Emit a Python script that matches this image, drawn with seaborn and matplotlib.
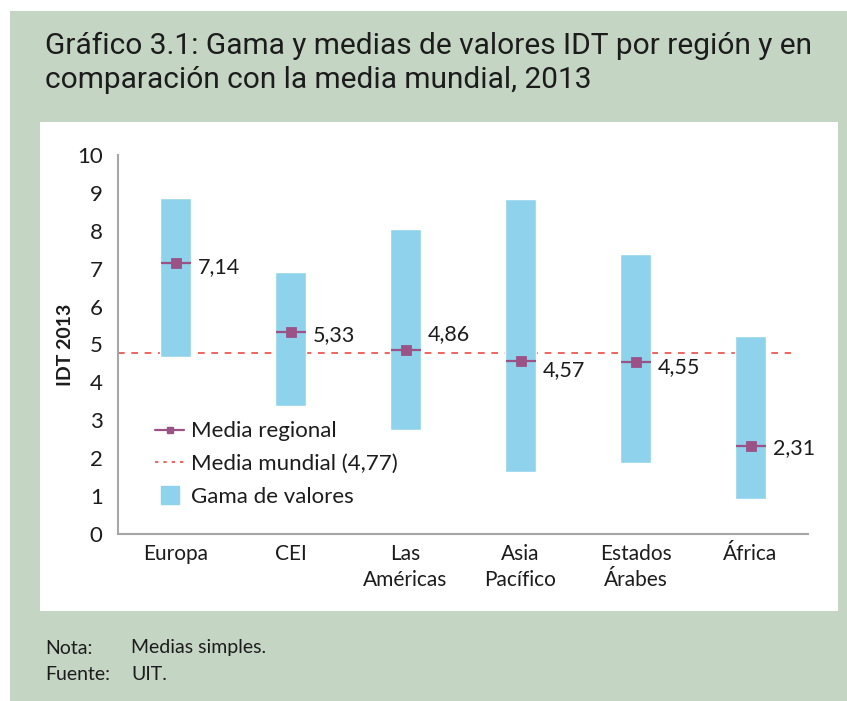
import numpy as np
import pandas as pd
import matplotlib.pyplot as plt
import seaborn as sns
from matplotlib.lines import Line2D
from matplotlib.patches import Rectangle

# data
regions = ["Europa", "CEI", "Las\nAméricas", "Asia\nPacífico", "Estados\nÁrabes", "África"]
range_low = [4.68, 3.37, 2.75, 1.64, 1.87, 0.93]
range_high = [8.86, 6.91, 8.04, 8.84, 7.38, 5.22]
regional_mean = [7.14, 5.33, 4.86, 4.57, 4.55, 2.31]
mean_labels = ["7,14", "5,33", "4,86", "4,57", "4,55", "2,31"]
world_mean = 4.77

df = pd.DataFrame({"region": regions, "low": range_low, "high": range_high, "mean": regional_mean})
df["span"] = df["high"] - df["low"]

sns.set_style("white")
plt.rcParams["font.family"] = ["Lato", "DejaVu Sans"]

bar_color = "#8ed3eb"
mean_color = "#9b5287"
world_color = "#ec4a42"
green = "#c5d5c4"
text_color = "#1c1c1c"

fig = plt.figure(figsize=(8.47, 7.01), dpi=100)
fig.patch.set_facecolor("white")
W, H = 847, 701
fig.patches.append(Rectangle((10 / W, 0), 1, 1 - 11 / H, transform=fig.transFigure,
                             facecolor=green, edgecolor="none", zorder=-2))
fig.patches.append(Rectangle((40 / W, 1 - 611 / H), (838 - 40) / W, (611 - 122) / H,
                             transform=fig.transFigure, facecolor="white", edgecolor="none", zorder=-1))

ax = fig.add_axes([118 / W, 1 - 534 / H, (808 - 118) / W, (534 - 155) / H])
ax.set_facecolor("none")

# value ranges as floating bars
sns.barplot(data=df, x="region", y="span", bottom=df["low"], color=bar_color, saturation=1,
            width=0.27, ax=ax, zorder=2)

# regional means: short line across the bar + square marker
sns.pointplot(data=df, x="region", y="mean", color=mean_color, markers="_", linestyle="none",
              errorbar=None, markersize=22, markeredgewidth=1.6, ax=ax, zorder=3)
sns.pointplot(data=df, x="region", y="mean", color=mean_color, markers="s", linestyle="none",
              errorbar=None, markersize=6, ax=ax, zorder=4)

ax.axhline(world_mean, xmin=0, xmax=0.975, color=world_color, ls=(0, (4, 4)), lw=1.2, zorder=1)

label_dy = [-3, -2, 11, -7, -4, -1]
for i, (m, lab) in enumerate(zip(regional_mean, mean_labels)):
    ax.annotate(lab, xy=(i, m), xytext=(16, label_dy[i]), textcoords="offset points",
                ha="left", va="center", fontsize=15.5, color=text_color)

ax.set_xlim(-0.5, len(regions) - 0.5)
ax.set_ylim(0, 10)
ax.set_yticks(range(0, 11))
ax.set_xticks(np.arange(-0.5, len(regions), 1.0))
ax.set_xticklabels([])
ax.set_xticks(range(len(regions)), minor=True)
ax.set_xticklabels(regions, minor=True, fontsize=15, color=text_color, linespacing=1.4)
ax.tick_params(axis="x", which="minor", length=0, pad=7)
ax.tick_params(axis="x", which="major", length=5, width=1.5, color="#a6a6a6", direction="out")
ax.tick_params(axis="y", length=5, width=1.5, color="#a6a6a6", direction="out", labelsize=16,
               labelcolor=text_color, pad=6)
for s in ["top", "right"]:
    ax.spines[s].set_visible(False)
for s in ["left", "bottom"]:
    ax.spines[s].set_color("#a6a6a6")
    ax.spines[s].set_linewidth(1.5)
ax.set_xlabel("")
ax.set_ylabel("IDT 2013", fontsize=14, fontweight="bold", color=text_color, labelpad=2)

handles = [
    Line2D([], [], color=mean_color, lw=1.6, marker="s", markersize=5),
    Line2D([], [], color=world_color, lw=1.2, ls=(0, (2, 3))),
    Line2D([], [], color=bar_color, lw=0, marker="s", markersize=13),
]
ax.legend(handles, ["Media regional", "Media mundial (4,77)", "Gama de valores"],
          loc="upper left", bbox_to_anchor=(0.025, 0.35), frameon=False, fontsize=16,
          handlelength=1.3, handletextpad=0.3, labelspacing=0.58, labelcolor=text_color)

fig.text(45 / W, 1 - 63 / H, "Gráfico 3.1: Gama y medias de valores IDT por región y en\n"
         "comparación con la media mundial, 2013", fontsize=21.5, family=["Roboto", "DejaVu Sans"],
         color=text_color, va="center", ha="left", linespacing=1.3)

fig.text(45 / W, 1 - 648 / H, "Nota:", fontsize=14, color=text_color, va="center")
fig.text(131 / W, 1 - 648 / H, "Medias simples.", fontsize=14, color=text_color, va="center")
fig.text(45 / W, 1 - 675 / H, "Fuente:", fontsize=14, color=text_color, va="center")
fig.text(131 / W, 1 - 675 / H, "UIT.", fontsize=14, color=text_color, va="center")

fig.savefig("out.png", dpi=100, facecolor=fig.get_facecolor())
